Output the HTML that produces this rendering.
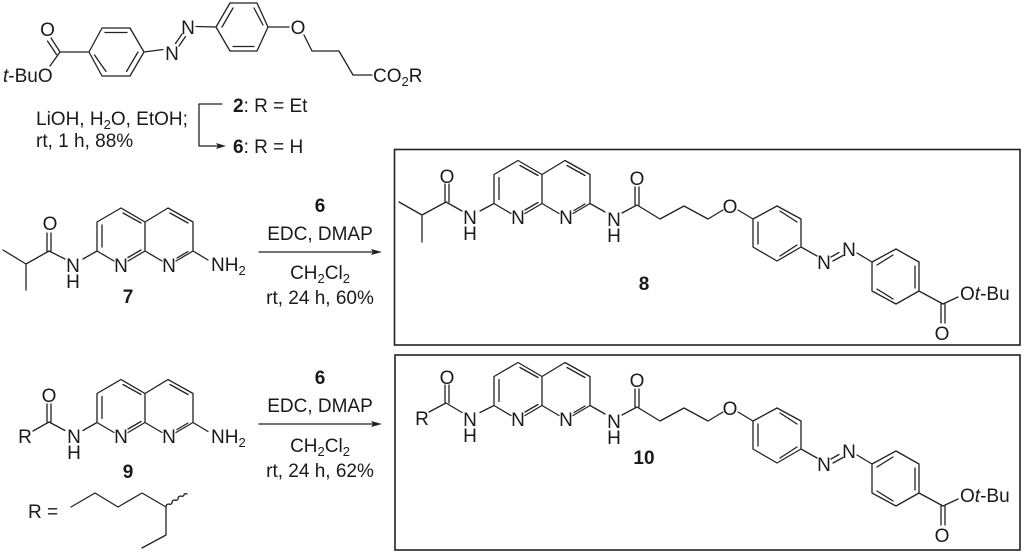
<!DOCTYPE html>
<html lang="en">
<head>
<meta charset="utf-8">
<title>Synthesis scheme</title>
<style>
html,body{margin:0;padding:0;background:#fff;width:1024px;height:554px;overflow:hidden}
svg{display:block}
text{font-family:"Liberation Sans",Arial,sans-serif;font-size:19px;fill:#1a1a1a}
.m{text-anchor:middle}
.b{font-weight:bold;font-size:19px}
.i{font-style:italic}
.s{font-size:13px}
.l{fill:none;stroke:#222;stroke-width:1.3;stroke-linejoin:round;stroke-linecap:round}
</style>
</head>
<body>
<svg width="1024" height="554" viewBox="0 0 1024 554" xmlns="http://www.w3.org/2000/svg">

<!-- Top azo compound -->
<path class="l" d="M89 52H60M60 52L50 66M60 52L51 38M56.500 54.500L47.500 41M89 52L102 28H130L144 52L130 76H102ZM105 32.500H127M138 52L126.500 71.500M94.500 55L106 71.500M144 52L163 49.500M175.500 43.500L182 34M179 46L185.500 36.500M196 26.500L216 27L230 3H257L268 27L257 51H230L216 27M222 27L233 8M254 8L263 25M233 46.500H254M268 27H289M304 35L312 51H339L353 75H372"/>
<text class="m" x="47.500" y="36">O</text>
<text x="3" y="82"><tspan class="i">t</tspan>-BuO</text>
<text class="m" x="172" y="60">N</text>
<text class="m" x="188" y="34">N</text>
<text class="m" x="298" y="34">O</text>
<text x="373" y="82">CO<tspan class="s" dy="4">2</tspan><tspan dy="-4">R</tspan></text>

<text x="36" y="125">LiOH, H<tspan class="s" dy="4">2</tspan><tspan dy="-4">O, EtOH;</tspan></text>
<text x="36" y="147">rt, 1 h, 88%</text>
<text x="233" y="112"><tspan font-weight="bold">2</tspan>: R = Et</text>
<text x="233" y="153"><tspan font-weight="bold">6</tspan>: R = H</text>
<path class="l" d="M222 104H199V146H218"/>
<path d="M226 146L216 143L218 146L216 149Z" fill="#222"/>

<!-- Compound 7 -->
<path class="l" d="M3 250L26 264V290M26 264L49 251L65 259M47 251V233M51 251V233M83 259L97 251V222L121 208L145 222V251L128 261M97 251L114 261M145 222L168 208L193 222V251L176 261M145 251L162 261M193 251L208 260M102 225V247M123 213L141 223M128 257.500L141 250M170 213L188 223M177 258L188 251.500"/>
<text class="m" x="50" y="230">O</text>
<text class="m" x="73" y="272">N</text>
<text class="m" x="73" y="288">H</text>
<text class="m" x="121" y="272">N</text>
<text class="m" x="169" y="272">N</text>
<text x="211" y="271">NH<tspan class="s" dy="4">2</tspan></text>
<text class="m b" x="128" y="303">7</text>

<path class="l" d="M259 252H374"/>
<path d="M382 252L371 249L373 252L371 255Z" fill="#222"/>
<text class="m b" x="320" y="212">6</text>
<text class="m" x="320" y="240">EDC, DMAP</text>
<text class="m" x="320" y="279">CH<tspan class="s" dy="4">2</tspan><tspan dy="-4">Cl</tspan><tspan class="s" dy="4">2</tspan></text>
<text class="m" x="320" y="304">rt, 24 h, 60%</text>

<!-- Compound 9 -->
<path class="l" d="M33 431L49 422L65 430.500M47 422V404M51 422V404M83 430.500L97 422.500V393.500L121 379.500L145 393.500V422.500L128 432.500M97 422.500L114 432.500M145 393.500L168 379.500L193 393.500V422.500L176 432.500M145 422.500L162 432.500M193 422.500L208 431.500M102 396.500V418.500M123 384.500L141 394.500M128 429L141 421.500M170 384.500L188 394.500M177 429.500L188 423"/>
<text class="m" x="25" y="443">R</text>
<text class="m" x="49" y="402">O</text>
<text class="m" x="74" y="443">N</text>
<text class="m" x="74" y="459">H</text>
<text class="m" x="121" y="443">N</text>
<text class="m" x="169" y="443">N</text>
<text x="211" y="443">NH<tspan class="s" dy="4">2</tspan></text>
<text class="m b" x="128" y="478">9</text>

<path class="l" d="M259 424H374"/>
<path d="M382 424L371 421L373 424L371 427Z" fill="#222"/>
<text class="m b" x="320" y="384">6</text>
<text class="m" x="320" y="412">EDC, DMAP</text>
<text class="m" x="320" y="452">CH<tspan class="s" dy="4">2</tspan><tspan dy="-4">Cl</tspan><tspan class="s" dy="4">2</tspan></text>
<text class="m" x="320" y="477">rt, 24 h, 62%</text>

<text x="28" y="518">R =</text>
<path class="l" d="M71 507L95 493L118 507L142 493L166 507V535L142 548"/>
<path class="l" stroke-width="1" d="M166 507q0-3 3-3q2 1 3-1q0-3 3-3q2 1 3-1q0-3 3-3q2 1 3-1q0-2 3-1"/>

<!-- Box 8 -->
<rect x="394.500" y="149.500" width="625.500" height="195.500" fill="none" stroke="#222" stroke-width="1.600"/>
<path class="l" d="M399 202L422 215V242M422 215L446 202L462 211M445 202V184M449 202V184M480 211L494 203.500V174.500L518 160.500L542 174.500V203.500L525 213.500M494 203.500L511 213.500M542 174.500L565 160.500L590 174.500V203.500L573 213.500M542 203.500L559 213.500M499 177.500V199.500M520 165.500L538 175.500M525 210L538 202.500M567 165.500L585 175.500M574 210.500L585 204"/>
<text class="m" x="447" y="183">O</text>
<text class="m" x="470" y="224">N</text>
<text class="m" x="470" y="240">H</text>
<text class="m" x="518" y="224">N</text>
<text class="m" x="566" y="224">N</text>
<text class="m b" x="644" y="290">8</text>

<g id="tail8">
<path class="l" d="M590 203.500L605 212M622 213L637 205L660 219L684 206L708 219L723 210M635 205V187M639 205V187M738 210L753 219V247L777 261L801 247V219L777 206L753 219M758 222V244M780 211L797 222M780 256L797 245M801 247L817 256M831 257L839 252.500M833 261L843 255.500M857 253L872 262L896 249L919 262V291L896 304L872 291V262M877 265L893 255M915 266V288M877 289L893 299M919 291L943 304M941 304V323M945 304V323M943 304L958 297"/>
<text class="m" x="614" y="226">N</text>
<text class="m" x="614" y="242">H</text>
<text class="m" x="637" y="185">O</text>
<text class="m" x="730" y="213">O</text>
<text class="m" x="824" y="269">N</text>
<text class="m" x="849" y="256">N</text>
<text class="m" x="942" y="340">O</text>
<text x="960" y="300">O<tspan class="i">t</tspan>-Bu</text>
</g>

<!-- Box 10 -->
<rect x="395" y="355" width="625" height="195" fill="none" stroke="#222" stroke-width="1.600"/>
<path class="l" d="M429 412L446 403L462 412.500M445 403V385M449 403V385M480 412.500L494 405.500V376.500L518 362.500L542 376.500V405.500L525 415.500M494 405.500L511 415.500M542 376.500L565 362.500L590 376.500V405.500L573 415.500M542 405.500L559 415.500M499 379.500V401.500M520 367.500L538 377.500M525 412L538 404.500M567 367.500L585 377.500M574 412.500L585 406"/>
<text class="m" x="422" y="425">R</text>
<text class="m" x="447" y="384">O</text>
<text class="m" x="470" y="426">N</text>
<text class="m" x="470" y="442">H</text>
<text class="m" x="518" y="426">N</text>
<text class="m" x="566" y="426">N</text>
<text class="m b" x="644" y="464">10</text>

<g transform="translate(0 202)">
<path class="l" d="M590 203.500L605 212M622 213L637 205L660 219L684 206L708 219L723 210M635 205V187M639 205V187M738 210L753 219V247L777 261L801 247V219L777 206L753 219M758 222V244M780 211L797 222M780 256L797 245M801 247L817 256M831 257L839 252.500M833 261L843 255.500M857 253L872 262L896 249L919 262V291L896 304L872 291V262M877 265L893 255M915 266V288M877 289L893 299M919 291L943 304M941 304V323M945 304V323M943 304L958 297"/>
<text class="m" x="614" y="226">N</text>
<text class="m" x="614" y="242">H</text>
<text class="m" x="637" y="185">O</text>
<text class="m" x="730" y="213">O</text>
<text class="m" x="824" y="269">N</text>
<text class="m" x="849" y="256">N</text>
<text class="m" x="942" y="340">O</text>
<text x="960" y="300">O<tspan class="i">t</tspan>-Bu</text>
</g>
</svg>
</body>
</html>
